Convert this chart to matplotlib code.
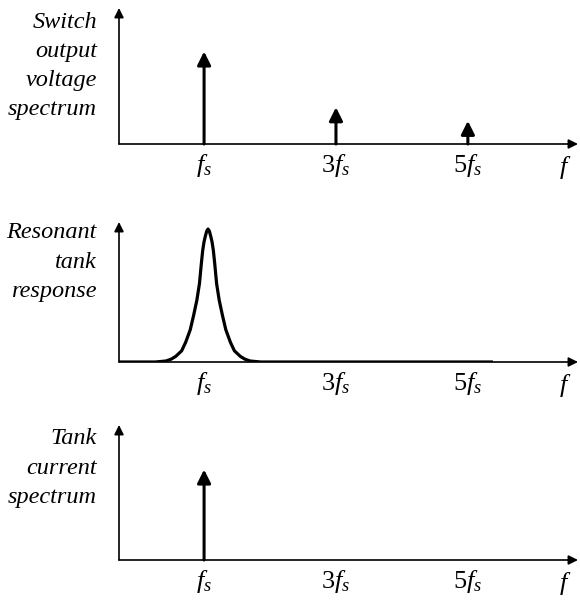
import numpy as np
import matplotlib
matplotlib.use('Agg')
import matplotlib.pyplot as plt

plt.rcParams['font.family'] = ['Liberation Serif', 'DejaVu Serif']
plt.rcParams['mathtext.fontset'] = 'custom'
plt.rcParams['mathtext.rm'] = 'Liberation Serif'
plt.rcParams['mathtext.it'] = 'Liberation Serif:italic'

# data (frequency in units of fs, amplitude relative to axis height)
harm_labels = ['$f_s$', '$3f_s$', '$5f_s$']
harm_pos = [1, 3, 5]
switch_amp = [0.68, 0.27, 0.17]
current_amp = [0.67]

tank_f = [-0.29, 0.26, 0.42, 0.50, 0.57, 0.66, 0.72, 0.79, 0.84, 0.89, 0.93, 0.96,
          0.98, 1.00, 1.02, 1.04, 1.06, 1.08, 1.10, 1.12, 1.14, 1.16, 1.19, 1.23,
          1.28, 1.33, 1.40, 1.46, 1.55, 1.62, 1.70, 1.86, 5.38]
tank_h = [0.0, 0.0, 0.007, 0.02, 0.04, 0.08, 0.14, 0.23, 0.33, 0.44, 0.56, 0.71,
          0.80, 0.86, 0.90, 0.935, 0.95, 0.935, 0.90, 0.86, 0.80, 0.71, 0.56, 0.44,
          0.33, 0.23, 0.14, 0.08, 0.04, 0.02, 0.007, 0.0, 0.0]

panel_titles = ['Switch\noutput\nvoltage\nspectrum',
                'Resonant\ntank\nresponse',
                'Tank\ncurrent\nspectrum']

W, H = 580, 600
fig = plt.figure(figsize=(5.8, 6.0), dpi=100)

xmin, xmax = -0.29, 6.67
# (baseline px, top px, title center px)
panels = [(144, 8, 66), (362, 222, 262), (560, 425, 468)]

axes = []
for base, top, tc in panels:
    ax = fig.add_axes([119 / W, 1 - base / H, (578 - 119) / W, (base - top) / H])
    ax.set_xlim(xmin, xmax)
    ax.set_ylim(0, 1)
    ax.axis('off')
    # axes with arrows
    ax.annotate('', xy=(xmax, 0), xytext=(xmin, 0),
                arrowprops=dict(arrowstyle='-|>', lw=1.2, color='k',
                                mutation_scale=14, shrinkA=0, shrinkB=0),
                annotation_clip=False)
    ax.annotate('', xy=(xmin, 1), xytext=(xmin, 0),
                arrowprops=dict(arrowstyle='-|>', lw=1.2, color='k',
                                mutation_scale=14, shrinkA=0, shrinkB=0),
                annotation_clip=False)
    for p, lab in zip(harm_pos, harm_labels):
        ax.annotate(lab, (p, 0), xytext=(0, -6), textcoords='offset points',
                    ha='center', va='top', fontsize=19)
    ax.annotate('$f$', (xmax - 0.2, 0), xytext=(0, -7), textcoords='offset points',
                ha='center', va='top', fontsize=19)
    axes.append(ax)

for ax, t, (base, top, tc) in zip(axes, panel_titles, panels):
    fig.text(97 / W, 1 - tc / H, t, ha='right', va='center', fontsize=17.5,
             style='italic', linespacing=1.5)

def spikes(ax, pos, amp):
    for p, a in zip(pos, amp):
        ax.annotate('', xy=(p, a), xytext=(p, 0),
                    arrowprops=dict(arrowstyle='-|>', lw=2.2, color='k',
                                    mutation_scale=20, shrinkA=0, shrinkB=0))

spikes(axes[0], harm_pos, switch_amp)
axes[1].plot(tank_f, tank_h, color='k', lw=2.3, solid_capstyle='butt',
             solid_joinstyle='round')
spikes(axes[2], harm_pos[:1], current_amp)

fig.savefig('out.png', dpi=100, facecolor='white')
